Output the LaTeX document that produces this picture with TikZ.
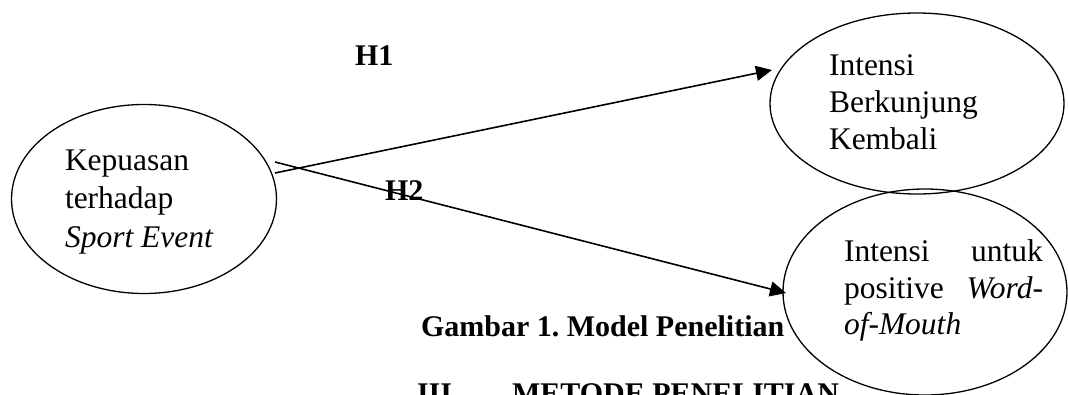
\documentclass[tikz,border=0pt]{standalone}
\usepackage{fontspec}
\setmainfont{Liberation Serif}
\usetikzlibrary{shapes.geometric,arrows.meta}
\begin{document}
\begin{tikzpicture}[x=1pt,y=-1pt,
  every node/.style={inner sep=0pt,outer sep=0pt,font=\fontsize{31.5}{37}\selectfont},
  oval/.style={draw,ellipse,line width=1.3pt,minimum width=#1},
  txt/.style={anchor=base west},
  lbl/.style={anchor=base west,font=\fontsize{30}{36}\selectfont\bfseries},
  arr/.style={line width=1.6pt,-{Triangle[length=16pt,width=15pt]}}]
\useasboundingbox (0,0) rectangle (1068,394);
\clip (0,0) rectangle (1068,394);
% ellipses
\node[oval=265pt,minimum height=189pt] (kep) at (144,199) {};
\node[oval=294pt,minimum height=181pt] (kem) at (917,103.5) {};
\node[oval=284pt,minimum height=206pt] (wom) at (925,292) {};
% texts
\node[txt] (k1) at (65,170) {Kepuasan};
\node[txt] (k2) at (65,208) {terhadap};
\node[txt] (k3) at (65,247) {\itshape Sport Event};
\node[txt] (b1) at (829,75) {Intensi};
\node[txt] (b2) at (829,112) {Berkunjung};
\node[txt] (b3) at (829,149) {Kembali};
\node[txt] (w1) at (844,261) {\hbox to 199pt{Intensi\hfil untuk}};
\node[txt] (w2) at (844,298) {\hbox to 199pt{positive\hfil \itshape Word-}};
\node[txt] (w3) at (844,334) {\itshape of-Mouth};
% connectors
\coordinate (h1s) at (275,173);
\coordinate (h1e) at (772,70);
\coordinate (h2s) at (275,162);
\coordinate (h2e) at (786,293);
\draw[arr] (h1s) -- (h1e);
\draw[arr] (h2s) -- (h2e);
% labels
\node[lbl] (H1) at (355,65) {H1};
\node[lbl] (H2) at (385,200) {H2};
\node[lbl] (cap) at (421,336) {Gambar 1.\ Model Penelitian};
\node[lbl] (sec1) at (417,403) {III.};
\node[lbl] (sec2) at (512,403) {METODE PENELITIAN};
\end{tikzpicture}
\end{document}
